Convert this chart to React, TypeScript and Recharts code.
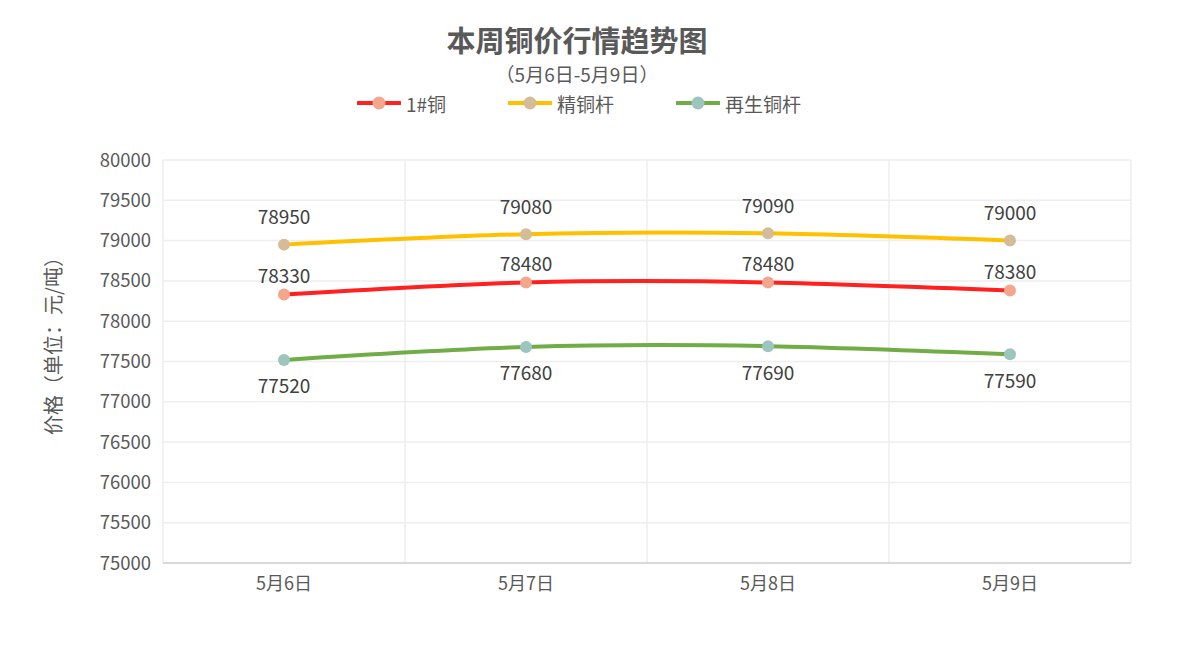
import React from 'react';
import { LineChart, Line, XAxis, YAxis, CartesianGrid, LabelList } from 'recharts';

const categories = ['5月6日', '5月7日', '5月8日', '5月9日'];
const copper1 = [78330, 78480, 78480, 78380];
const copperRod = [78950, 79080, 79090, 79000];
const recycledRod = [77520, 77680, 77690, 77590];
const yTicks = [75000, 75500, 76000, 76500, 77000, 77500, 78000, 78500, 79000, 79500, 80000];

const titleText = '本周铜价行情趋势图';
const subtitleText = '（5月6日-5月9日）';
const yAxisTitle = '价格（单位：元/吨）';

const series = [
  { key: 'c1', name: '1#铜', color: '#ff2020', marker: '#f4a68c', dy: -20 },
  { key: 'rod', name: '精铜杆', color: '#ffc000', marker: '#d4bc98', dy: -29 },
  { key: 'rec', name: '再生铜杆', color: '#70ad47', marker: '#9cc5bd', dy: 25 },
];

const data = categories.map((day, i) => ({
  day,
  c1: copper1[i],
  rod: copperRod[i],
  rec: recycledRod[i],
}));

const FONT = '"Microsoft YaHei", "Noto Sans CJK SC", "Noto Sans", sans-serif';

const W = 1180;
const H = 646;
const M = { top: 160, right: 49, bottom: 0, left: 0 };
const Y_W = 163;
const X_H = 83;
const bandPad = (W - M.right - M.left - Y_W) / categories.length / 2;

function makeLabel(dy: number) {
  return (props: any) => {
    const { x, y, value } = props;
    return (
      <text
        x={x}
        y={y + dy}
        textAnchor="middle"
        dominantBaseline="central"
        fontSize={19}
        fill="#404040"
        fontFamily={FONT}
      >
        {value}
      </text>
    );
  };
}

const YLabel = (props: any) => (
  <text
    x={52}
    y={341}
    transform="rotate(-90 52 341)"
    textAnchor="middle"
    dominantBaseline="central"
    fontSize={20}
    fill="#595959"
    fontFamily={FONT}
  >
    {yAxisTitle}
  </text>
);

const verticalLines = (props: any) => {
  const off = props.offset;
  const out: number[] = [];
  for (let i = 0; i <= categories.length; i++) {
    out.push(off.left + (off.width * i) / categories.length);
  }
  return out;
};

export default function App() {
  return (
    <div
      style={{
        position: 'absolute',
        left: 0,
        top: 0,
        width: W,
        height: H,
        background: '#fff',
        fontFamily: FONT,
      }}
    >
      <div
        style={{
          position: 'absolute',
          top: 24,
          left: -13,
          width: W,
          textAlign: 'center',
          fontSize: 29,
          fontWeight: 'bold',
          color: '#595959',
          lineHeight: '30px',
        }}
      >
        {titleText}
      </div>
      <div
        style={{
          position: 'absolute',
          top: 63,
          left: -13,
          width: W,
          textAlign: 'center',
          fontSize: 19,
          color: '#595959',
          lineHeight: '22px',
        }}
      >
        {subtitleText}
      </div>
      <div
        style={{
          position: 'absolute',
          top: 89,
          left: -11,
          width: W,
          display: 'flex',
          justifyContent: 'center',
          gap: 62,
        }}
      >
        {series.map((s) => (
          <div key={s.key} style={{ display: 'flex', alignItems: 'center', height: 28 }}>
            <svg width={44} height={14} style={{ marginRight: 5 }}>
              <line x1={1} y1={7} x2={43} y2={7} stroke={s.color} strokeWidth={4} strokeLinecap="round" />
              <circle cx={22} cy={7} r={6.5} fill={s.marker} />
            </svg>
            <span style={{ fontSize: 19, color: '#595959' }}>{s.name}</span>
          </div>
        ))}
      </div>
      <div style={{ position: 'absolute', left: 0, top: 0 }}>
        <LineChart width={W} height={H} data={data} margin={M}>
          <CartesianGrid stroke="#eeeeee" strokeWidth={1.5} verticalCoordinatesGenerator={verticalLines} />
          <XAxis
            dataKey="day"
            height={X_H}
            padding={{ left: bandPad, right: bandPad }}
            tickLine={false}
            axisLine={{ stroke: '#d9d9d9', strokeWidth: 2 }}
            tickSize={0}
            tickMargin={14}
            tick={{ fontSize: 18, fill: '#595959', fontFamily: FONT }}
            interval={0}
          />
          <YAxis
            width={Y_W}
            domain={[75000, 80000]}
            ticks={yTicks}
            interval={0}
            axisLine={false}
            tickLine={false}
            tickSize={0}
            tickMargin={12}
            tick={{ fontSize: 18.5, fill: '#595959', fontFamily: FONT }}
            label={<YLabel />}
          />
          {series.map((s) => (
            <Line
              key={s.key}
              dataKey={s.key}
              name={s.name}
              type="natural"
              stroke={s.color}
              strokeWidth={4}
              dot={{ r: 6, fill: s.marker, stroke: s.marker, strokeWidth: 0, fillOpacity: 1 }}
              activeDot={false}
              isAnimationActive={false}
            >
              <LabelList dataKey={s.key} content={makeLabel(s.dy)} />
            </Line>
          ))}
        </LineChart>
      </div>
    </div>
  );
}
